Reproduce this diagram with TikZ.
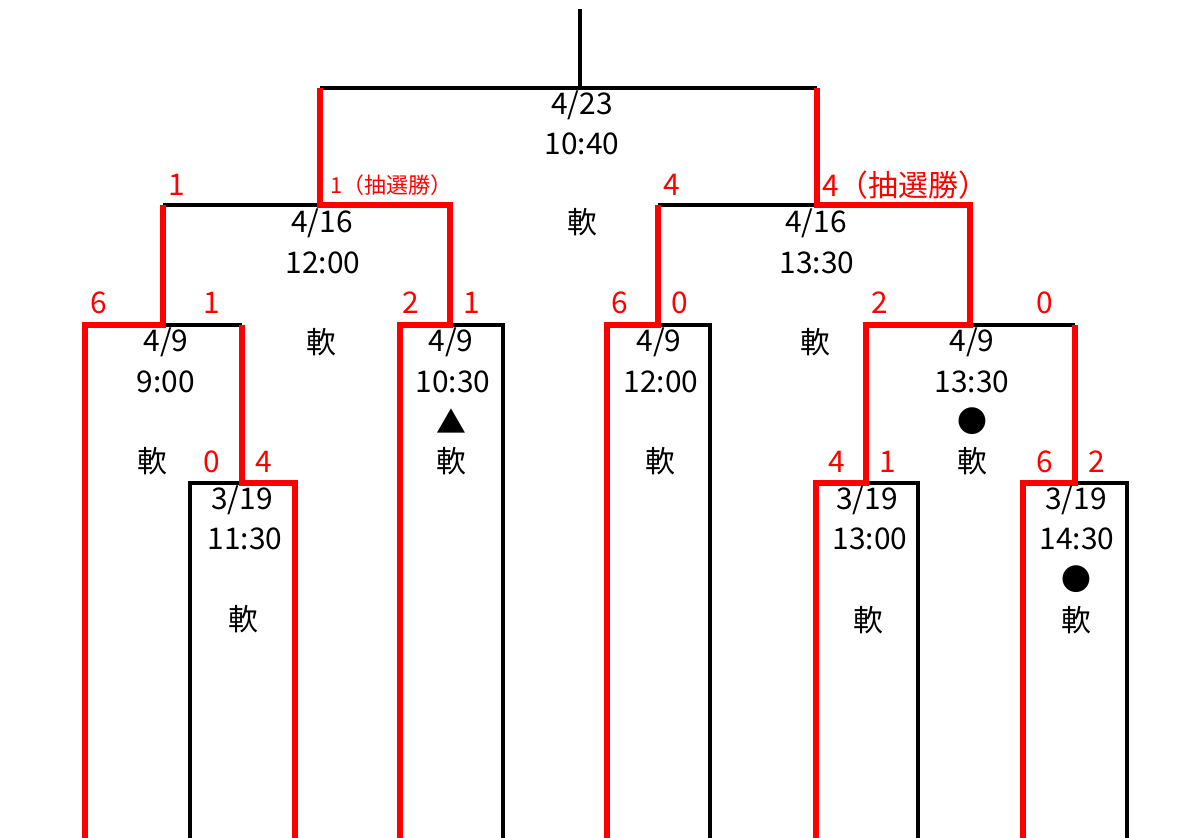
\documentclass[tikz,border=0pt]{standalone}
\usepackage{fontspec}
\setmainfont{Noto Sans CJK JP}
\begin{document}
\begin{tikzpicture}[x=0.02cm,y=-0.02cm,
    lose/.style={line width=1.9pt, black},
    win/.style={line width=3pt, red},
    every node/.style={font=\fontsize{17}{20}\selectfont, inner sep=0pt},
    score/.style={text=red},
    lot/.style={text=red, font=\fontsize{12.5}{15}\selectfont}]

    \useasboundingbox (0,0) rectangle (1200,838);

    % bracket, black
    \draw[lose] (580,9) -- (580,88);
    \draw[lose] (320,88) -- (817,88);
    \draw[lose] (163,205) -- (450,205);
    \draw[lose] (658,205) -- (970,205);
    \draw[lose] (85,325) -- (242,325);
    \draw[lose] (400,325) -- (503,325) -- (503,838);
    \draw[lose] (607,325) -- (710,325) -- (710,838);
    \draw[lose] (866,325) -- (1075,325);
    \draw[lose] (190,838) -- (190,483) -- (295,483);
    \draw[lose] (816,483) -- (918,483) -- (918,838);
    \draw[lose] (1023,483) -- (1127,483) -- (1127,838);

    % winners, red
    \draw[win] (85,838) -- (85,325) -- (163,325) -- (163,205);
    \draw[win] (295,838) -- (295,483) -- (242,483) -- (242,325);
    \draw[win] (400,838) -- (400,325) -- (450,325) -- (450,205) -- (320,205) -- (320,88);
    \draw[win] (607,838) -- (607,325) -- (658,325) -- (658,205);
    \draw[win] (816,838) -- (816,483) -- (866,483) -- (866,325) -- (970,325) -- (970,205) -- (817,205) -- (817,88);
    \draw[win] (1023,838) -- (1023,483) -- (1075,483) -- (1075,325);

    % final
    \node (fdate) at (582,105) {4/23};
    \node (ftime) at (582,144) {10:40};
    \node (fkind) at (582,222) {軟};

    % semifinals
    \node[score] (s1a) at (177,185) {1};
    \node[lot, anchor=west] (s1b) at (330,185) {1（抽選勝）};
    \node (sf1date) at (322,223) {4/16};
    \node (sf1time) at (323,263) {12:00};
    \node[score] (s2a) at (672,185) {4};
    \node[score, anchor=west] (s2b) at (822,185) {4（抽選勝）};
    \node (sf2date) at (816,223) {4/16};
    \node (sf2time) at (817,263) {13:30};

    % quarterfinals
    \node[score] (q1a) at (99,303) {6};
    \node[score] (q1b) at (212,303) {1};
    \node (qf1date) at (166,342) {4/9};
    \node (qf1time) at (166,382) {9:00};
    \node (qf1kind) at (152,461) {軟};
    \node (sfkind1) at (321,342) {軟};

    \node[score] (q2a) at (411,303) {2};
    \node[score] (q2b) at (472,303) {1};
    \node (qf2date) at (451,342) {4/9};
    \node (qf2time) at (453,382) {10:30};
    \node (qf2mark) at (451,421) {▲};
    \node (qf2kind) at (451,461) {軟};

    \node[score] (q3a) at (620,303) {6};
    \node[score] (q3b) at (680,303) {0};
    \node (qf3date) at (659,342) {4/9};
    \node (qf3time) at (661,382) {12:00};
    \node (qf3kind) at (660,461) {軟};
    \node (sfkind2) at (815,342) {軟};

    \node[score] (q4a) at (880,303) {2};
    \node[score] (q4b) at (1045,303) {0};
    \node (qf4date) at (972,342) {4/9};
    \node (qf4time) at (972,382) {13:30};
    \node (qf4mark) at (972,421) {●};
    \node (qf4kind) at (972,461) {軟};

    % first round
    \node[score] (r1a) at (212,462) {0};
    \node[score] (r1b) at (264,462) {4};
    \node (r1date) at (242,500) {3/19};
    \node (r1time) at (245,539) {11:30};
    \node (r1kind) at (243,619) {軟};

    \node[score] (r2a) at (837,462) {4};
    \node[score] (r2b) at (888,462) {1};
    \node (r2date) at (867,500) {3/19};
    \node (r2time) at (870,539) {13:00};
    \node (r2kind) at (868,620) {軟};

    \node[score] (r3a) at (1045,462) {6};
    \node[score] (r3b) at (1097,462) {2};
    \node (r3date) at (1076,500) {3/19};
    \node (r3time) at (1077,539) {14:30};
    \node (r3mark) at (1076,579) {●};
    \node (r3kind) at (1076,620) {軟};

\end{tikzpicture}
\end{document}
